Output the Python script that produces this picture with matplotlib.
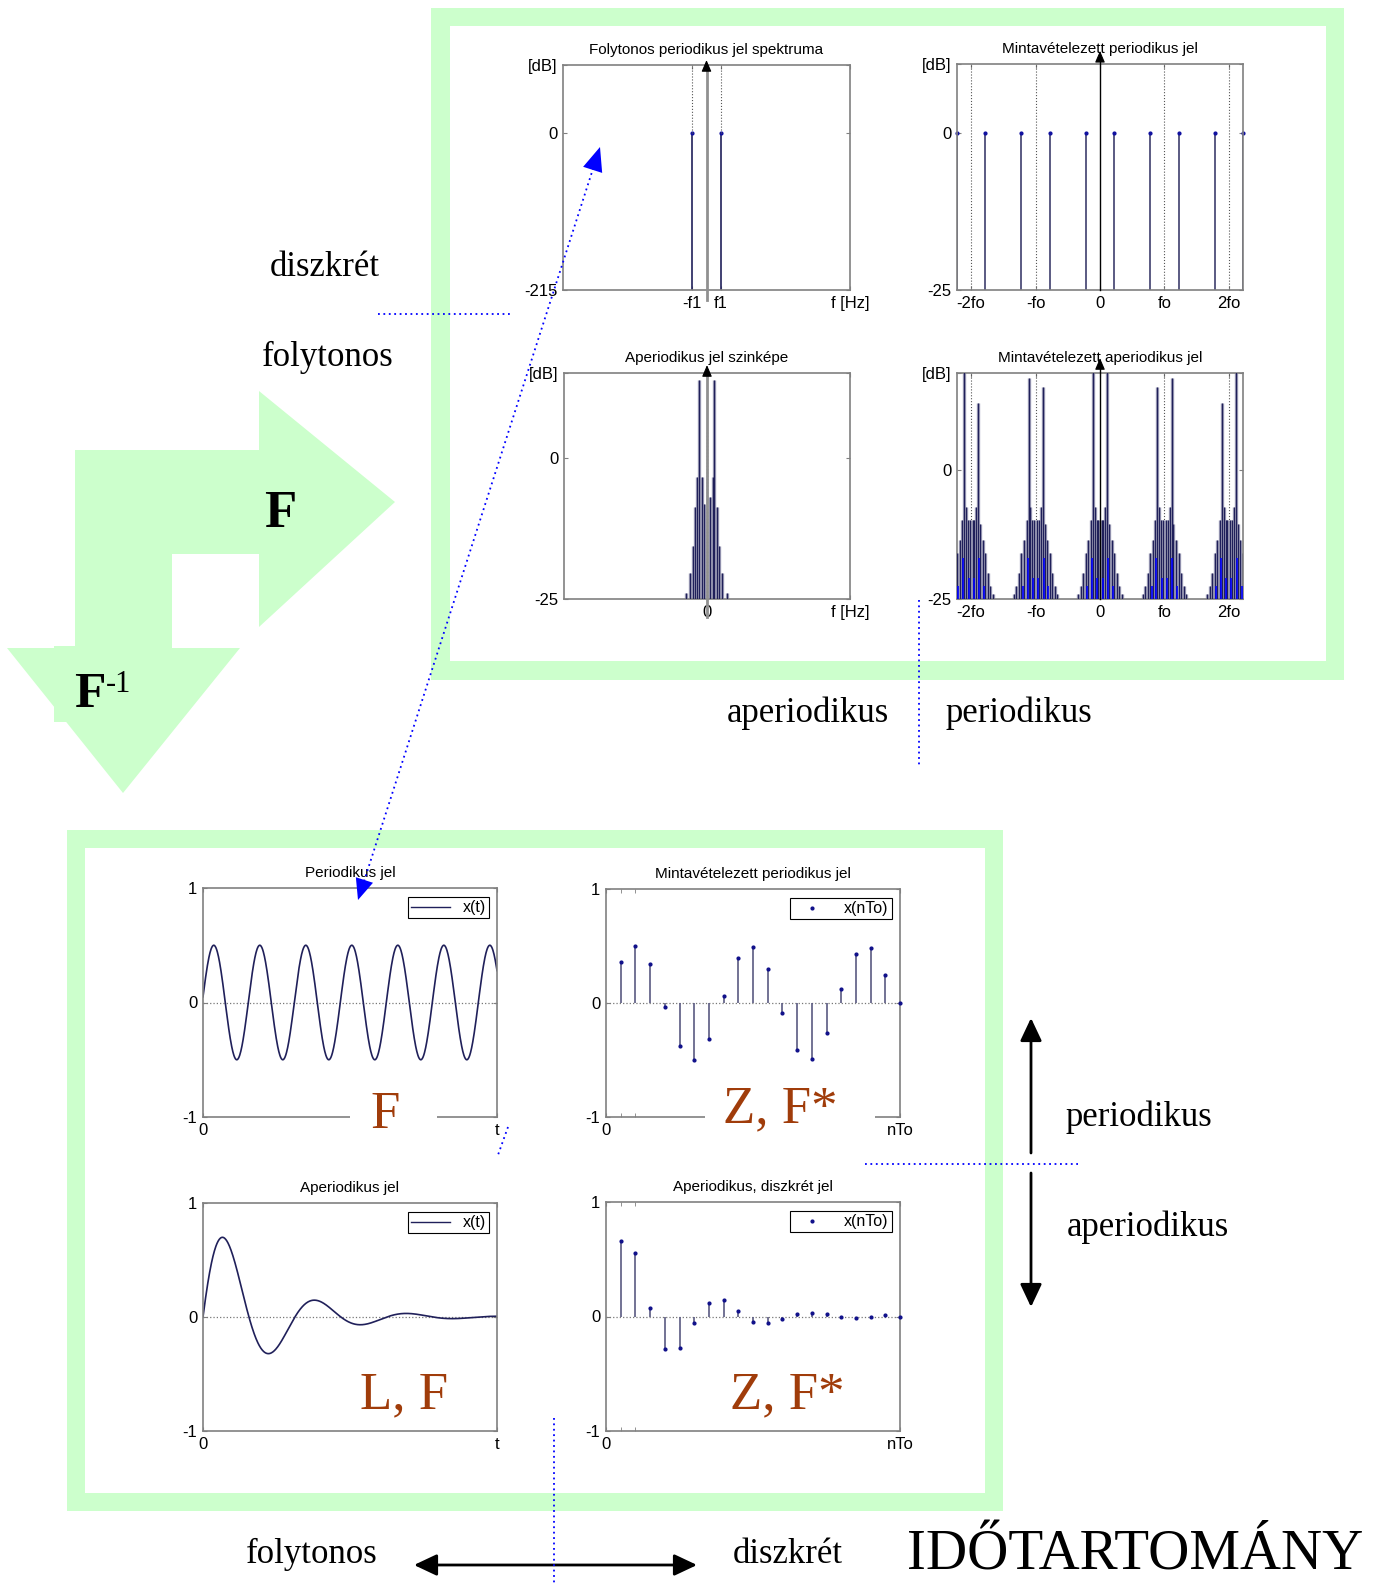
import matplotlib.pyplot as plt
import numpy as np
from matplotlib.patches import Polygon, Rectangle
from matplotlib.lines import Line2D
from matplotlib.transforms import blended_transform_factory

W, H = 1376, 1583
plt.rcParams['font.family'] = ['Liberation Sans', 'DejaVu Sans']

GREEN = '#ccffcc'
BROWN = '#a03c0a'
NAVY = '#20205a'
STEM = '#5a5a82'
SERIF = ['Liberation Serif', 'DejaVu Serif']

# continuous periodic spectrum: two lines at +-f1 (0 dB)
cp_freq = [-0.1, 0.1]
cp_db = [0.0, 0.0]

# sampled periodic spectrum (frequency in fo units)
sp_freq = [-2.22, -1.78, -1.22, -0.78, -0.22, 0.22, 0.78, 1.22, 1.78, 2.22]
sp_db = [0.0] * 10
fo_ticks = [-2, -1, 0, 1, 2]
fo_labels = ['-2fo', '-fo', '0', 'fo', '2fo']

# aperiodic spectrum lines
ap_freq = [-0.147, -0.119, -0.100, -0.082, -0.068, -0.056, -0.037, -0.023,
           0.021, 0.040, 0.051, 0.068, 0.084, 0.107, 0.138]
ap_db = [-24.0, -20.4, -15.7, -8.7, -3.4, 13.8, -3.4, -8.1,
         -6.9, -3.4, 13.8, -8.7, -15.7, -20.4, -24.0]
ap_center_db = 4.9

# sampled aperiodic spectrum: one lobe shape repeated around k*fo
lobe_centers = [-2, -1, 0, 1, 2]
lobe_off = [-0.34, -0.30, -0.26, -0.22, -0.18, -0.14, -0.08, -0.05, -0.025,
            0.025, 0.05, 0.08, 0.14, 0.18, 0.22, 0.26, 0.30, 0.34]
lobe_db = [-24, -22.5, -20, -16, -13.6, -9.7, -7.1, -9.7, -9.7,
           -9.7, -9.7, -7.1, -10.5, -13.6, -16, -20, -22.5, -24]
peak_off = [-0.11, 0.11]
peak_left_db = [22, 17.8, 22, 16.1, 12.9]
peak_right_db = [12.9, 16.1, 22, 17.8, 22]
blue_off = [-0.20, -0.125, -0.04, 0.04, 0.125, 0.20]
blue_db = [-22.5, -17, -21, -21, -17, -22.5]

# time signals
per_amp, per_cycles, per_phase = 0.5, 6.39, 0.1
aper_amp, aper_decay, aper_omega = 1.0, 4.97, 20.1
n_idx = list(range(1, 21))
per_samples = [0.358, 0.498, 0.338, -0.035, -0.378, -0.50, -0.317, 0.061, 0.396, 0.495,
               0.294, -0.084, -0.413, -0.495, -0.262, 0.119, 0.431, 0.486, 0.250, 0.0]
aper_samples = [0.663, 0.555, 0.073, -0.283, -0.277, -0.058, 0.117, 0.140, 0.044, -0.044,
                -0.058, -0.023, 0.020, 0.029, 0.020, 0.0, -0.015, -0.006, 0.009, 0.0]

fig = plt.figure(figsize=(W / 100, H / 100), dpi=100)


def overlay(z):
    a = fig.add_axes([0, 0, 1, 1], zorder=z)
    a.set_xlim(0, W)
    a.set_ylim(H, 0)
    a.axis('off')
    a.patch.set_alpha(0)
    return a


def px_axes(l, t, r, b):
    a = fig.add_axes([l / W, 1 - b / H, (r - l) / W, (b - t) / H], zorder=2)
    for s in a.spines.values():
        s.set_color('#808080')
        s.set_linewidth(1.2)
    a.tick_params(direction='in', length=3, color='#808080', labelsize=12,
                  top=True, right=True, pad=4)
    a.patch.set_alpha(0)
    return a


def center_arrow(a, color, lw, y0, tip):
    tr = blended_transform_factory(a.transData, a.transAxes)
    a.plot([0, 0], [y0, tip - 0.02], transform=tr, color=color, lw=lw,
           clip_on=False, zorder=4)
    a.annotate('', xy=(0, tip), xycoords=tr, xytext=(0, tip - 0.045), textcoords=tr,
               arrowprops=dict(arrowstyle='-|>,head_length=0.35,head_width=0.15',
                               color='k', lw=0.8, mutation_scale=20,
                               shrinkA=0, shrinkB=0), zorder=5)


def spec_lines(a, x, top, ybot):
    a.vlines(x, ybot, top, color='#a0a0b8', lw=2.4, zorder=2)
    a.vlines(x, ybot, top, color=NAVY, lw=0.9, zorder=3)


bg = overlay(0)
fg = overlay(6)

# green frames
bg.add_patch(Rectangle((431, 8), 913, 672, fc=GREEN, ec='none'))
bg.add_patch(Rectangle((450, 26), 876, 635, fc='white', ec='none'))
bg.add_patch(Rectangle((67, 830), 936, 681, fc=GREEN, ec='none'))
bg.add_patch(Rectangle((85, 848), 900, 645, fc='white', ec='none'))

# green F / F^-1 arrow
bg.add_patch(Polygon([(75, 450), (259, 450), (259, 391), (395, 502), (259, 627),
                      (259, 554), (172, 554), (172, 648), (240, 648), (123, 793),
                      (7, 648), (75, 648)], closed=True, fc=GREEN, ec='none'))
bg.add_patch(Rectangle((54, 646), 90, 76, fc=GREEN, ec='none'))
bg.text(264, 527, 'F', family=SERIF, weight='bold', fontsize=38, va='baseline')
bg.text(74, 707, 'F', family=SERIF, weight='bold', fontsize=37, va='baseline')
bg.text(106, 692, '-1', family=SERIF, fontsize=22, va='baseline')

# axis-domain labels
lab = dict(family=SERIF, fontsize=25, ha='center', va='baseline')
bg.text(325, 276, 'diszkrét', **lab)
bg.text(328, 366, 'folytonos', **lab)
bg.text(808, 722, 'aperiodikus', **lab)
bg.text(1019, 722, 'periodikus', **lab)
bg.text(1139, 1126, 'periodikus', **lab)
bg.text(1148, 1236, 'aperiodikus', **lab)
bg.text(312, 1563, 'folytonos', **lab)
bg.text(788, 1563, 'diszkrét', **lab)
bg.text(1135, 1570, 'IDŐTARTOMÁNY', family=SERIF, fontsize=41, ha='center', va='baseline')

# black direction arrows
ah = dict(arrowstyle='-|>,head_length=0.7,head_width=0.33', color='k', lw=2,
          mutation_scale=20, shrinkA=0, shrinkB=0)
bg.annotate('', xy=(1031, 1018), xytext=(1031, 1153), arrowprops=ah)
bg.annotate('', xy=(1031, 1307), xytext=(1031, 1173), arrowprops=ah)
bg.annotate('', xy=(697, 1565), xytext=(414, 1565),
            arrowprops=dict(ah, arrowstyle='<|-|>,head_length=0.7,head_width=0.33'))

# --- Folytonos periodikus jel spektruma ---
ax1 = px_axes(563, 65, 850, 290)
ax1.set_xlim(-1, 1)
ax1.set_ylim(-215, 93)
ax1.vlines(cp_freq, -215, cp_db, color=NAVY, lw=1.2)
ax1.plot(cp_freq, cp_db, '.', color='#1010a0', ms=4)
ax1.vlines(cp_freq, cp_db, 93, color='#555555', lw=0.8, linestyles=':')
center_arrow(ax1, '#909090', 2, -0.045, 1.022)
ax1.set_xticks([cp_freq[0], cp_freq[1], 1])
ax1.set_xticklabels(['-f1', 'f1', 'f [Hz]'])
ax1.set_yticks([-215, 0, 93])
ax1.set_yticklabels(['-215', '0', '[dB]'])
ax1.set_title('Folytonos periodikus jel spektruma', fontsize=11, pad=8)

# --- Mintavételezett periodikus jel (spectrum) ---
ax2 = px_axes(957, 64, 1243, 290)
ax2.set_xlim(-2.22, 2.22)
ax2.set_ylim(-25, 11)
ax2.vlines([-2, -1, 1, 2], -25, 11, color='#555555', lw=0.8, linestyles=':')
ax2.vlines(sp_freq, -25, sp_db, color=STEM, lw=1.4)
ax2.plot(sp_freq, sp_db, '.', color='#1010a0', ms=4, clip_on=False)
center_arrow(ax2, 'k', 1, 0, 1.058)
ax2.set_xticks(fo_ticks)
ax2.set_xticklabels(fo_labels)
ax2.set_yticks([-25, 0, 11])
ax2.set_yticklabels(['-25', '0', '[dB]'])
ax2.set_title('Mintavételezett periodikus jel', fontsize=11, pad=8)

# --- Aperiodikus jel szinképe ---
ax3 = px_axes(564, 373, 850, 599)
ax3.set_xlim(-1, 1)
ax3.set_ylim(-25, 15)
spec_lines(ax3, ap_freq, ap_db, -25)
ax3.vlines([0], -25, ap_center_db, color='k', lw=0.9, linestyles=':')
center_arrow(ax3, '#909090', 2, -0.08, 1.035)
ax3.set_xticks([0, 1])
ax3.set_xticklabels(['0', 'f [Hz]'])
ax3.set_yticks([-25, 0, 15])
ax3.set_yticklabels(['-25', '0', '[dB]'])
ax3.set_title('Aperiodikus jel szinképe', fontsize=11, pad=8)

# --- Mintavételezett aperiodikus jel (spectrum) ---
ax4 = px_axes(957, 373, 1243, 599)
ax4.set_xlim(-2.22, 2.22)
ax4.set_ylim(-25, 18.8)
ax4.vlines([-2, -1, 1, 2], -25, 18.8, color='#555555', lw=0.8, linestyles=':')
for k, c in enumerate(lobe_centers):
    spec_lines(ax4, [c + o for o in lobe_off], lobe_db, -25)
    spec_lines(ax4, [c + o for o in peak_off], [peak_left_db[k], peak_right_db[k]], -25)
    ax4.vlines([c + o for o in blue_off], -25, blue_db, color='#0000ff', lw=1.2, zorder=3)
center_arrow(ax4, 'k', 1, 0, 1.066)
ax4.set_xticks(fo_ticks)
ax4.set_xticklabels(fo_labels)
ax4.set_yticks([-25, 0, 18.8])
ax4.set_yticklabels(['-25', '0', '[dB]'])
ax4.set_title('Mintavételezett aperiodikus jel', fontsize=11, pad=8)

# --- time-domain signals ---
t = np.linspace(0, 1, 800)
x_per = per_amp * np.sin(2 * np.pi * per_cycles * t + per_phase)
x_aper = aper_amp * np.exp(-aper_decay * t) * np.sin(aper_omega * t)


def time_axes(l, t_, r, b, title, xlab, xmax):
    a = px_axes(l, t_, r, b)
    a.set_xlim(0, xmax)
    a.set_ylim(-1, 1)
    a.axhline(0, ls=':', color='#777777', lw=0.9, zorder=1)
    a.set_xticks([0, xmax])
    a.set_xticklabels(['0', xlab])
    a.set_yticks([-1, 0, 1])
    a.set_yticklabels(['-1', '0', '1'])
    a.set_title(title, fontsize=11, pad=8)
    return a


def add_legend(a, handle, label):
    w = a.get_position().width * W
    h = a.get_position().height * H
    leg = a.legend([handle], [label], loc='upper right',
                   bbox_to_anchor=(1 - 8 / w, 1 - 9 / h), borderaxespad=0,
                   fancybox=False, edgecolor='black', framealpha=1, fontsize=11.5,
                   handlelength=2.4, handletextpad=0.8, borderpad=0.2)
    leg.get_frame().set_linewidth(0.8)


ax5 = time_axes(203, 888, 497, 1117, 'Periodikus jel', 't', 1)
ax5.plot(t, x_per, color=NAVY, lw=1.2)
add_legend(ax5, Line2D([], [], color=NAVY, lw=1), 'x(t)')

ax7 = time_axes(203, 1203, 497, 1431, 'Aperiodikus jel', 't', 1)
ax7.plot(t, x_aper, color=NAVY, lw=1.2)
add_legend(ax7, Line2D([], [], color=NAVY, lw=1), 'x(t)')

dot = Line2D([], [], ls='none', marker='.', color='#10108a', ms=4)
for box, title, vals in [((606, 889, 900, 1117), 'Mintavételezett periodikus jel', per_samples),
                         ((606, 1202, 900, 1431), 'Aperiodikus, diszkrét jel', aper_samples)]:
    a = time_axes(*box, title, 'nTo', 20)
    a.vlines(n_idx, 0, vals, color=STEM, lw=1.2, zorder=2)
    a.plot(n_idx, vals, '.', color='#10108a', ms=4, clip_on=False, zorder=3)
    a.set_xticks([1, 2], minor=True)
    a.tick_params(which='minor', direction='in', length=3, color='#808080', top=True)
    add_legend(a, dot, 'x(nTo)')

# brown transform labels (white background hides the axis line)
fg.add_patch(Rectangle((350, 1085), 87, 50, fc='white', ec='none'))
fg.add_patch(Rectangle((705, 1080), 170, 50, fc='white', ec='none'))
big = dict(family=SERIF, fontsize=38, color=BROWN, ha='center', va='baseline')
fg.text(385, 1128, 'F', **big)
fg.text(780, 1122, 'Z, F*', **big)
fg.text(404, 1408, 'L, F', **big)
fg.text(787, 1408, 'Z, F*', **big)

# blue dotted guide lines
dots = dict(color='#0000ff', lw=1.3, ls=(0, (1, 2)))
fg.plot([378, 512], [314, 314], **dots)
fg.plot([919, 919], [600, 767], **dots)
fg.plot([865, 1078], [1164, 1164], **dots)
fg.plot([554, 554], [1418, 1583], **dots)
fg.plot([508, 498], [1127, 1155], **dots)

# double-headed blue dotted arrow between the two periodic plots
tip_a, tip_b = np.array([600.0, 147.0]), np.array([358.0, 900.0])
d = (tip_b - tip_a) / np.linalg.norm(tip_b - tip_a)
perp = np.array([d[1], -d[0]])
fg.plot(*zip(tip_a + 22 * d, tip_b - 20 * d), **dots)
for tip, u, ln, hw in [(tip_a, d, 24, 10), (tip_b, -d, 21, 9)]:
    base = tip + ln * u
    fg.add_patch(Polygon([tip, base + hw * perp, base - hw * perp], closed=True,
                         fc='#0000ff', ec='none'))

fig.savefig('out.png', dpi=100)
